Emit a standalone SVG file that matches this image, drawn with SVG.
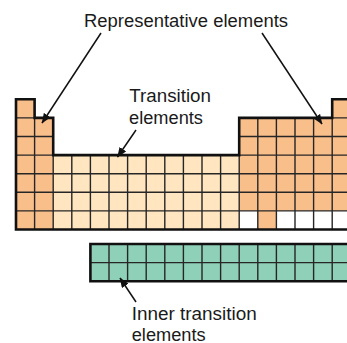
<svg xmlns="http://www.w3.org/2000/svg" width="347" height="343" viewBox="0 0 347 343">
  <style>
    .rep { fill: #f9bf8b; }
    .trans { fill: #ffe6c0; }
    .inner { fill: #8fd1b8; }
    .blank { fill: #ffffff; }
    .grid { fill: none; stroke: #262626; stroke-width: 1.4; }
    .edge { fill: none; stroke: #111111; stroke-width: 2.6; stroke-linejoin: miter; }
    .label { font-family: "Liberation Sans", Arial, sans-serif; font-size: 17.5px; fill: #1a1a1a; }
    .pointer { fill: none; stroke: #111111; stroke-width: 1.5; marker-end: url(#head); }
  </style>
  <defs>
    <marker id="head" viewBox="0 0 10 8" refX="9.5" refY="4" markerWidth="10" markerHeight="8" markerUnits="userSpaceOnUse" orient="auto">
      <path d="M0,0 L10,4 L0,8 Z" fill="#111111"/>
    </marker>
  </defs>

  <rect width="347" height="343" fill="#ffffff"/>

  <!-- Main table: cell size 18.6, origin (16, 99.3) -->
  <g id="representative-left">
    <path class="rep" d="M16,99.3 H34.6 V117.9 H53.2 V229.5 H16 Z"/>
  </g>

  <g id="transition-block">
    <rect class="trans" x="53.2" y="155.1" width="186" height="74.4"/>
  </g>

  <g id="representative-right">
    <path class="rep" d="M239.2,117.9 H332.2 V99.3 H352 V229.5 H239.2 Z"/>
    <rect class="blank" x="239.2" y="210.9" width="18.6" height="18.6"/>
    <rect class="blank" x="276.4" y="210.9" width="76" height="18.6"/>
  </g>

  <g id="table-grid">
    <path class="grid" d="
      M16,117.9 H34.6
      M16,136.5 H53.2 M239.2,136.5 H352
      M16,155.1 H53.2 M239.2,155.1 H352
      M16,173.7 H352 M16,192.3 H352 M16,210.9 H352
      M332.2,117.9 H352
      M34.6,117.9 V229.5
      M53.2,155.1 V229.5 M71.8,155.1 V229.5 M90.4,155.1 V229.5 M109,155.1 V229.5
      M127.6,155.1 V229.5 M146.2,155.1 V229.5 M164.8,155.1 V229.5 M183.4,155.1 V229.5
      M202,155.1 V229.5 M220.6,155.1 V229.5 M239.2,155.1 V229.5
      M257.8,117.9 V229.5 M276.4,117.9 V229.5 M295,117.9 V229.5 M313.6,117.9 V229.5
      M332.2,117.9 V229.5"/>
    <path class="edge" d="M352,229.5 H16 V99.3 H34.6 V117.9 H53.2 V155.1 H239.2 V117.9 H332.2 V99.3 H352"/>
  </g>

  <!-- Inner transition rows -->
  <g id="inner-transition">
    <rect class="inner" x="90.4" y="244" width="262" height="37.2"/>
    <path class="grid" d="
      M90.4,262.6 H352
      M109,244 V281.2 M127.6,244 V281.2 M146.2,244 V281.2 M164.8,244 V281.2
      M183.4,244 V281.2 M202,244 V281.2 M220.6,244 V281.2 M239.2,244 V281.2
      M257.8,244 V281.2 M276.4,244 V281.2 M295,244 V281.2 M313.6,244 V281.2
      M332.2,244 V281.2"/>
    <path class="edge" d="M352,244 H90.4 V281.2 H352"/>
  </g>

  <g id="labels">
    <text class="label" x="84" y="27" textLength="204" lengthAdjust="spacingAndGlyphs">Representative elements</text>
    <text class="label" x="129.3" y="101.5" textLength="81.7" lengthAdjust="spacingAndGlyphs">Transition</text>
    <text class="label" x="129" y="123.5" textLength="74" lengthAdjust="spacingAndGlyphs">elements</text>
    <text class="label" x="131.7" y="320" textLength="125" lengthAdjust="spacingAndGlyphs">Inner transition</text>
    <text class="label" x="131.7" y="340.5" textLength="74" lengthAdjust="spacingAndGlyphs">elements</text>
  </g>

  <g id="connectors">
    <line class="pointer" x1="101" y1="33" x2="42" y2="123"/>
    <line class="pointer" x1="262" y1="33" x2="322" y2="124"/>
    <line class="pointer" x1="136" y1="130" x2="117.5" y2="157"/>
    <line class="pointer" x1="136" y1="302" x2="120" y2="278"/>
  </g>
</svg>
